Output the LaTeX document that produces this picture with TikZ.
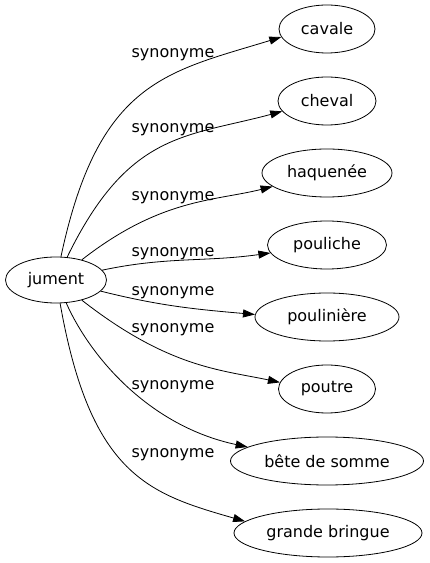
\documentclass[tikz,border=0pt]{standalone}
\usepackage{fontspec}
\setmainfont{DejaVu Sans}
\usetikzlibrary{shapes.geometric, arrows.meta}
\tikzstyle{word} = [ellipse, draw=black, line width=0.8pt, minimum height=48pt, inner sep=0pt, text centered, font=\fontsize{16}{19}\selectfont]
\tikzstyle{rel} = [inner sep=0pt, anchor=base, font=\fontsize{16}{19}\selectfont]
\tikzstyle{arrow} = [line width=0.8pt, -{Triangle[length=12pt,width=8pt]}]

\begin{document}
\begin{tikzpicture}[x=1pt, y=1pt]
		\useasboundingbox (0,0) rectangle (429,563);
		
		% Node for the head word
		\node (jument) [word, minimum width=101pt, minimum height=46pt] at (56,283) {jument};
		
		% Nodes for synonyms
		\node (cavale) [word, minimum width=96pt] at (327,534) {cavale};
		\node (cheval) [word, minimum width=98pt] at (327,462) {cheval};
		\node (haquenee) [word, minimum width=130pt] at (327,390) {haquenée};
		\node (pouliche) [word, minimum width=119pt] at (327,318) {pouliche};
		\node (pouliniere) [word, minimum width=144pt] at (327,246) {poulinière};
		\node (poutre) [word, minimum width=97pt] at (327,174) {poutre};
		\node (bete) [word, minimum width=193pt] at (327,102) {bête de somme};
		\node (bringue) [word, minimum width=188pt] at (328,30) {grande bringue};
		
		% Arrows
		\draw [arrow] (jument) to[out=78, in=197, out distance=180pt, in distance=120pt] (cavale.190);
		\draw [arrow] (jument) to[out=64, in=195, out distance=140pt, in distance=100pt] (cheval.193);
		\draw [arrow] (jument) to[out=38, in=194, out distance=100pt, in distance=60pt] (haquenee.194);
		\draw [arrow] (jument) to[out=12, in=188] (pouliche.188);
		\draw [arrow] (jument) to[out=-14, in=175] (pouliniere.178);
		\draw [arrow] (jument) to[out=-38, in=168, out distance=110pt, in distance=60pt] (poutre.172);
		\draw [arrow] (jument) to[out=-66, in=168, out distance=60pt, in distance=100pt] (bete.170);
		\draw [arrow] (jument) to[out=-80, in=164, out distance=175pt, in distance=100pt] (bringue.172);
		
		% Labels
		\node (lcavale) [rel] at (173,505) {synonyme};
		\node (lcheval) [rel] at (173,430) {synonyme};
		\node (lhaquenee) [rel] at (173,362) {synonyme};
		\node (lpouliche) [rel] at (173,306) {synonyme};
		\node (lpouliniere) [rel] at (173,267) {synonyme};
		\node (lpoutre) [rel] at (173,230) {synonyme};
		\node (lbete) [rel] at (173,173) {synonyme};
		\node (lbringue) [rel] at (173,105) {synonyme};
		
	\end{tikzpicture}
\end{document}
